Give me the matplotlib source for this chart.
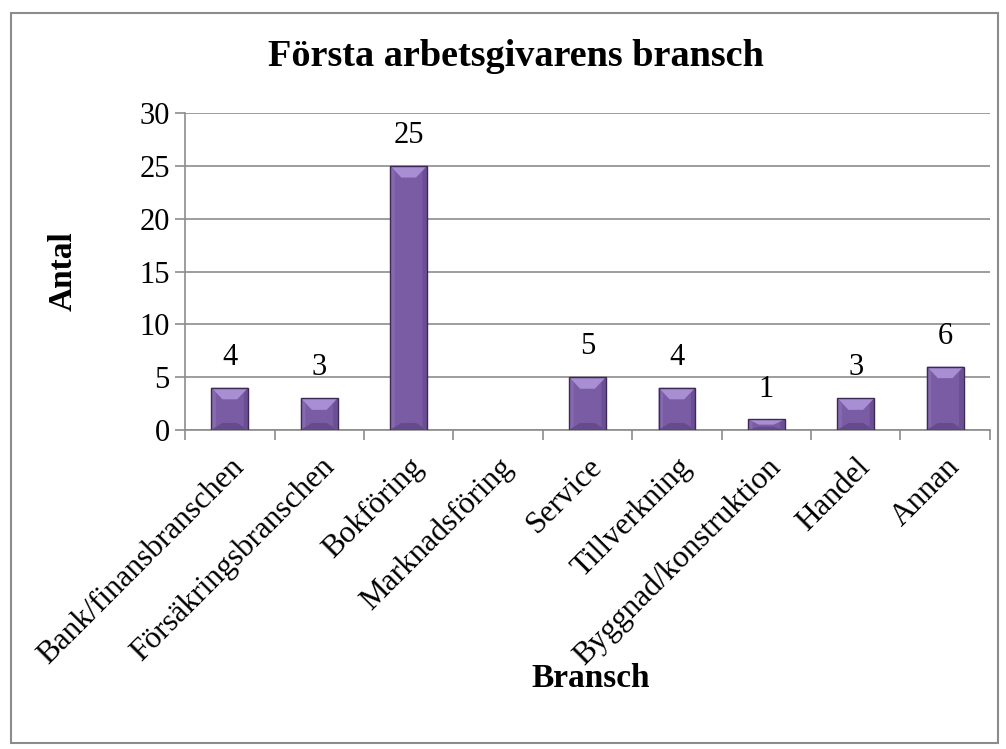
import matplotlib.pyplot as plt
from matplotlib.patches import Polygon, Rectangle

kategorier = ['Bank/finansbranschen', 'Försäkringsbranschen', 'Bokföring', 'Marknadsföring',
              'Service', 'Tillverkning', 'Byggnad/konstruktion', 'Handel', 'Annan']
antal = [4, 3, 25, 0, 5, 4, 1, 3, 6]

plt.rcParams['font.family'] = ['Liberation Serif', 'DejaVu Serif']

fig = plt.figure(figsize=(10.06, 7.49), dpi=100)
# yttre ram
fig.patches.append(Rectangle((0.0105, 0.008), 0.982, 0.975, transform=fig.transFigure,
                             fill=False, edgecolor='#8c8c8c', linewidth=1.5))

ax = fig.add_axes([0.184, 0.426, 0.80, 0.423])
x = list(range(len(kategorier)))
w = 0.41
ax.set_xlim(-0.5, len(kategorier) - 0.5)
ax.set_ylim(0, 30)
ax.set_yticks(range(0, 31, 5))
ax.yaxis.grid(True, color='#8c8c8c', linewidth=1.2)
ax.set_axisbelow(True)


def fasad_stapel(ax, xi, v):
    # stapel med enkel fasning (ljus topp, mörkare botten)
    l, r = xi - w / 2, xi + w / 2
    dx = min(w * 0.3, 0.13)
    dy = min(1.1, v * 0.5)
    ax.add_patch(Rectangle((l, 0), w, v, facecolor='#7a5ca5', edgecolor='none', zorder=3))
    ax.add_patch(Polygon([(l, v), (r, v), (r - dx, v - dy), (l + dx, v - dy)],
                         facecolor='#a88ed3', edgecolor='none', zorder=4))
    ax.add_patch(Polygon([(l, 0), (r, 0), (r - dx, dy * 0.6), (l + dx, dy * 0.6)],
                         facecolor='#654a8c', edgecolor='none', zorder=4))
    ax.add_patch(Polygon([(l, 0), (l + dx * 0.4, dy * 0.3), (l + dx * 0.4, v - dy * 0.5), (l, v)],
                         facecolor='#866ab0', edgecolor='none', zorder=4))
    ax.add_patch(Polygon([(r, 0), (r - dx * 0.4, dy * 0.3), (r - dx * 0.4, v - dy * 0.5), (r, v)],
                         facecolor='#6b4f94', edgecolor='none', zorder=4))
    ax.add_patch(Rectangle((l, 0), w, v, fill=False, edgecolor='#3c2a55', linewidth=1.0, zorder=5))


for xi, v in zip(x, antal):
    if v == 0:
        continue
    fasad_stapel(ax, xi, v)
    ax.text(xi, v + 1.5, str(v), ha='center', va='bottom', fontsize=22)

for s in ['top', 'right']:
    ax.spines[s].set_visible(False)
for s in ['left', 'bottom']:
    ax.spines[s].set_color('#8c8c8c')
    ax.spines[s].set_linewidth(1.2)

ax.set_xticks([i + 0.5 for i in range(-1, len(kategorier))], minor=False)
ax.set_xticklabels([])
ax.set_xticks(x, minor=True)
ax.set_xticklabels(kategorier, minor=True, rotation=45, ha='right', rotation_mode='anchor', fontsize=22.5)
ax.tick_params(axis='x', which='minor', length=0, pad=16)
ax.tick_params(axis='x', which='major', length=7, color='#8c8c8c', width=1.2)
ax.tick_params(axis='y', length=7, color='#8c8c8c', width=1.2, labelsize=22, pad=4)

fig.text(0.0626, 0.638, 'Antal', ha='center', va='center', rotation=90, fontsize=24, fontweight='bold')
fig.text(0.5875, 0.094, 'Bransch', ha='center', va='center', fontsize=24, fontweight='bold')
fig.text(0.513, 0.924, 'Första arbetsgivarens bransch', ha='center', va='center', fontsize=27.5, fontweight='bold')

fig.savefig('out.png', dpi=100)
